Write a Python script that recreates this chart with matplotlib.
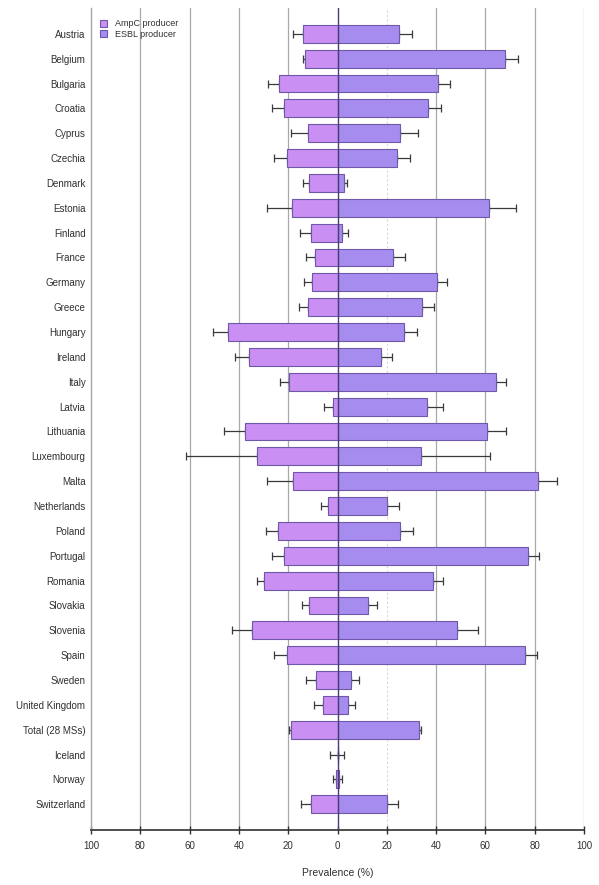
import matplotlib
matplotlib.use("Agg")
import matplotlib.pyplot as plt
import numpy as np

countries = ["Austria", "Belgium", "Bulgaria", "Croatia", "Cyprus", "Czechia", "Denmark",
             "Estonia", "Finland", "France", "Germany", "Greece", "Hungary", "Ireland",
             "Italy", "Latvia", "Lithuania", "Luxembourg", "Malta", "Netherlands", "Poland",
             "Portugal", "Romania", "Slovakia", "Slovenia", "Spain", "Sweden",
             "United Kingdom", "Total (28 MSs)", "Iceland", "Norway", "Switzerland"]

# Prevalence (%) of AmpC and ESBL producers, with upper confidence limits
ampc = [14, 13, 23.7, 21.6, 11.8, 20.4, 11.7, 18.5, 10.7, 9.1, 10.5, 11.8, 44.3, 35.8,
        19.6, 1.7, 37.5, 32.8, 18.2, 4.0, 24.0, 21.6, 29.7, 11.4, 34.8, 20.4, 8.9, 5.8,
        19.0, 0.0, 0.5, 10.7]
ampc_upper = [17.9, 14.1, 28.1, 26.7, 18.9, 25.6, 14.1, 28.7, 15.2, 12.8, 13.5, 15.5, 50.4,
              41.6, 23.3, 5.5, 46.0, 61.5, 28.7, 6.8, 29.1, 26.7, 32.8, 14.5, 42.9, 25.8,
              12.8, 9.4, 19.6, 3.0, 1.7, 14.9]
esbl = [25.1, 68.0, 40.9, 36.6, 25.4, 24.1, 2.6, 61.6, 1.7, 22.6, 40.2, 34.1, 27.0, 17.5,
        64.2, 36.4, 60.8, 33.9, 81.5, 20.2, 25.4, 77.2, 38.9, 12.5, 48.6, 76.1, 5.5, 4.4,
        33.1, 0.0, 0.5, 20.0]
esbl_upper = [30.1, 73.1, 45.6, 41.9, 32.8, 29.4, 3.7, 72.3, 4.4, 27.5, 44.3, 39.3, 32.1,
              22.0, 68.4, 42.7, 68.4, 61.9, 89.2, 24.9, 30.5, 81.6, 42.7, 16.1, 56.9, 80.8,
              8.9, 7.2, 33.8, 2.8, 1.7, 24.4]

xticks = [-100, -80, -60, -40, -20, 0, 20, 40, 60, 80, 100]
xticklabels = ["100", "80", "60", "40", "20", "0", "20", "40", "60", "80", "100"]

plt.rcParams["font.family"] = ["Liberation Sans", "DejaVu Sans"]

fig = plt.figure(figsize=(5.99, 8.85), dpi=100)
ax = fig.add_axes([0.152, 0.062, 0.823, 0.929])

y = np.arange(len(countries))
ampc = np.array(ampc)
esbl = np.array(esbl)
ampc_err = np.array(ampc_upper) - ampc
esbl_err = np.array(esbl_upper) - esbl

ampc_color = "#c98ff2"
esbl_color = "#a68cee"
edge = "#6e58a8"
err_color = "#3a3a3a"

# vertical grid
for gx in [-80, -60, -40, -20, 40, 60, 80, 100]:
    ax.axvline(gx, color="#a8a8a8", lw=0.9, zorder=0)
ax.axvline(20, color="#d8d8d0", lw=0.8, ls=(0, (2, 2)), zorder=0)

bar_h = 0.72
ax.barh(y, -ampc, height=bar_h, color=ampc_color, edgecolor=edge, lw=0.8, zorder=2,
        label="AmpC producer")
ax.barh(y, esbl, height=bar_h, color=esbl_color, edgecolor=edge, lw=0.8, zorder=2,
        label="ESBL producer")

ax.errorbar(-ampc, y, xerr=[ampc_err, np.zeros_like(ampc_err)], fmt="none",
            ecolor=err_color, elinewidth=0.9, capsize=2.6, capthick=0.9, zorder=1)
ax.errorbar(esbl, y, xerr=[np.zeros_like(esbl_err), esbl_err], fmt="none",
            ecolor=err_color, elinewidth=0.9, capsize=2.6, capthick=0.9, zorder=1)

ax.axvline(0, color="#4a3c78", lw=1.0, zorder=3)

ax.set_xlim(-100, 100)
ax.set_ylim(len(countries) - 1 + 1.04, -1.04)
ax.set_yticks(y)
ax.set_yticklabels(countries, fontsize=7, color="#303030")
ax.tick_params(axis="y", length=0, pad=4)
ax.set_xticks(xticks)
ax.set_xticklabels(xticklabels, fontsize=7, color="#303030")
ax.tick_params(axis="x", direction="inout", length=6, width=1, color="#303030", pad=5)
ax.set_xlabel("Prevalence (%)", fontsize=7.5, color="#303030", labelpad=12)

for side in ["top", "right"]:
    ax.spines[side].set_visible(False)
ax.spines["left"].set_color("#a8a8a8")
ax.spines["left"].set_linewidth(1.0)
ax.spines["bottom"].set_color("#303030")
ax.spines["bottom"].set_linewidth(1.2)

leg = ax.legend(loc="upper left", bbox_to_anchor=(0.0, 0.997), fontsize=6.5, frameon=False,
                handlelength=0.8, handleheight=0.8, handletextpad=0.8, labelspacing=0.15,
                borderaxespad=0.6)
for t in leg.get_texts():
    t.set_color("#303030")

fig.savefig("out.png", dpi=100, facecolor="white")
